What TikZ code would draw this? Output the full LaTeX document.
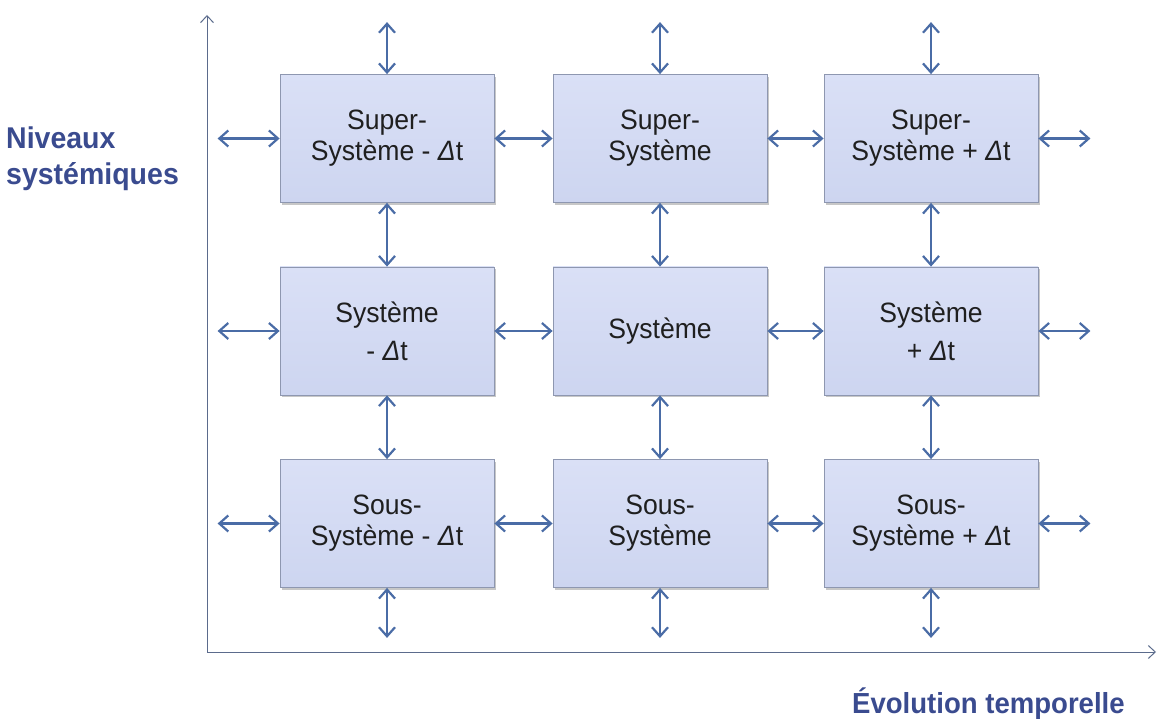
\documentclass[tikz,border=0pt]{standalone}
\usepackage{fontspec}
\setmainfont{Liberation Sans}[FakeStretch=0.95]
\usepackage{xcolor}
\usetikzlibrary{
    arrows.meta,
    shadows,
    positioning
}
\definecolor{boxtop}{HTML}{DAE0F6}
\definecolor{boxbot}{HTML}{CDD5F0}
\definecolor{boxline}{HTML}{8E97B0}
\definecolor{lnkblue}{HTML}{4A6CA6}
\definecolor{axisgray}{HTML}{5B6B8C}
\definecolor{lblblue}{HTML}{3A4B8F}
\newcommand{\deltat}{{\itshape Δ}t}
\tikzset{sysbox/.style={minimum width=214pt, minimum height=128pt, draw=boxline, line width=0.8pt,
        top color=boxtop, bottom color=boxbot, align=center, text=black!88,
        font=\fontsize{28}{31}\selectfont,
        drop shadow={shadow xshift=2pt, shadow yshift=-2.5pt, fill=black!40, opacity=0.55}}}
\tikzset{lnk/.style={line width=2.2pt, color=lnkblue,
        {Straight Barb[length=9pt,width=16pt]}-{Straight Barb[length=9pt,width=16pt]}}}
\tikzset{axe/.style={line width=1pt, draw=axisgray, -{Straight Barb[length=7pt,width=13pt]}}}
\tikzset{lbl/.style={inner sep=0pt, text=lblblue, font=\fontsize{30}{36}\selectfont\bfseries}}

\begin{document}
\begin{tikzpicture}[x=1pt, y=1pt]
    \useasboundingbox (0, 0) rectangle (1159, 718);

    % axes
    \coordinate (orig) at (207, 66);
    \coordinate (ytip) at (207, 703);
    \coordinate (xtip) at (1156, 66);
    \draw[axe] (orig) -- (ytip);
    \draw[axe] (orig) -- (xtip);
    \node[lbl, anchor=west, align=left] (niv) at (6, 559) {Niveaux\\systémiques};
    \node[lbl, anchor=base west, font=\fontsize{29}{36}\selectfont\bfseries] (evo) at (852, 5) {Évolution temporelle};

    % grid of systems
    \node[sysbox] (supm) at (387, 579.5) {Super-\\Système - \deltat};
    \node[sysbox] (sup) at (660, 579.5) {Super-\\Système};
    \node[sysbox] (supp) at (931, 579.5) {Super-\\Système + \deltat};
    \node[sysbox] (sysm) at (387, 387) {Système\\[7pt]- \deltat};
    \node[sysbox] (sys) at (660, 387) {Système};
    \node[sysbox] (sysp) at (931, 387) {Système\\[7pt]+ \deltat};
    \node[sysbox] (subm) at (387, 194.5) {Sous-\\Système - \deltat};
    \node[sysbox] (sub) at (660, 194.5) {Sous-\\Système};
    \node[sysbox] (subp) at (931, 194.5) {Sous-\\Système + \deltat};

    % free ends
    \coordinate[above=52pt of supm.north] (supmT);
    \coordinate[above=52pt of sup.north] (supT);
    \coordinate[above=52pt of supp.north] (suppT);
    \coordinate[below=50pt of subm.south] (submB);
    \coordinate[below=50pt of sub.south] (subB);
    \coordinate[below=50pt of subp.south] (subpB);
    \coordinate[left=62pt of supm.west] (supmL);
    \coordinate[left=62pt of sysm.west] (sysmL);
    \coordinate[left=62pt of subm.west] (submL);
    \coordinate[right=52pt of supp.east] (suppR);
    \coordinate[right=52pt of sysp.east] (syspR);
    \coordinate[right=52pt of subp.east] (subpR);

    % links
    \path[lnk]
    (supmT) edge (supm) (supT) edge (sup) (suppT) edge (supp)
    (subm) edge (submB) (sub) edge (subB) (subp) edge (subpB)
    (supmL) edge (supm) (sysmL) edge (sysm) (submL) edge (subm)
    (supp) edge (suppR) (sysp) edge (syspR) (subp) edge (subpR)
    (supm) edge (sup) (sup) edge (supp)
    (sysm) edge (sys) (sys) edge (sysp)
    (subm) edge (sub) (sub) edge (subp)
    (supm) edge (sysm) (sysm) edge (subm)
    (sup) edge (sys) (sys) edge (sub)
    (supp) edge (sysp) (sysp) edge (subp);
\end{tikzpicture}
\end{document}
